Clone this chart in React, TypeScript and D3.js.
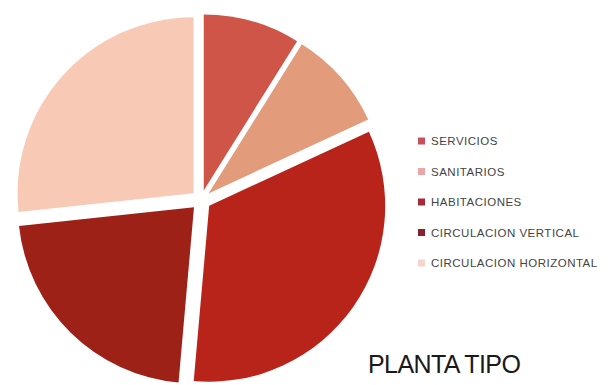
import React from "react";
import * as d3 from "d3";

const categories = ["SERVICIOS", "SANITARIOS", "HABITACIONES", "CIRCULACION VERTICAL", "CIRCULACION HORIZONTAL"];
const values = [8.9, 9.2, 33.3, 21.9, 26.7];
const sliceColors = ["#cf5548", "#e29b7b", "#b9241a", "#9d2117", "#f8cab6"];
const legendColors = ["#c9505a", "#eaa6a6", "#a82838", "#8e1f2e", "#f6d3cb"];
const title = "PLANTA TIPO";

export default function App() {
  const W = 613, H = 385;
  const cx = 201, cy = 200, R = 176, explode = 10;
  const pie = d3.pie<number>().sort(null).value((d) => d);
  const arcs = pie(values);
  const arcGen = d3.arc<d3.PieArcDatum<number>>().innerRadius(0).outerRadius(R);
  const legendY = d3.scalePoint<string>().domain(categories).range([141, 263]);

  return (
    <svg width={W} height={H} style={{ position: "absolute", left: 0, top: 0, background: "#fff" }}>
      <rect width={W} height={H} fill="#fff" />
      <g transform={`translate(${cx},${cy})`}>
        {arcs.map((a, i) => {
          const mid = (a.startAngle + a.endAngle) / 2;
          const dx = Math.sin(mid) * explode;
          const dy = -Math.cos(mid) * explode;
          return (
            <path key={i} d={arcGen(a) || ""} fill={sliceColors[i]} transform={`translate(${dx},${dy})`} />
          );
        })}
      </g>
      <g fontFamily="'Liberation Sans', Arial, sans-serif">
        {categories.map((c, i) => (
          <g key={c} transform={`translate(418,${legendY(c)})`}>
            <rect x={0} y={-3.5} width={7} height={7} fill={legendColors[i]} />
            <text x={13} y={0} dy="0.36em" fontSize={11.5} fill="#444" letterSpacing={0.5}>{c}</text>
          </g>
        ))}
        <text x={368} y={373} fontSize={25} fill="#1a1a1a" letterSpacing={-0.6}>{title}</text>
      </g>
    </svg>
  );
}
